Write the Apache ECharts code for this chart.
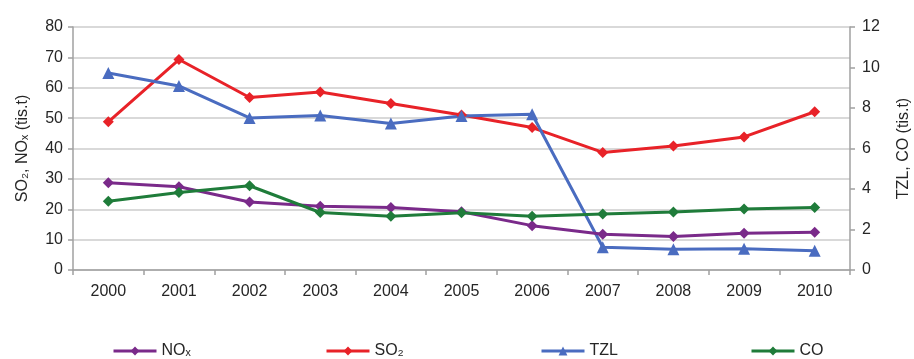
<!DOCTYPE html>
<html>
<head>
<meta charset="utf-8">
<script src="https://cdn.jsdelivr.net/npm/echarts@6/dist/echarts.min.js"></script>
<style>
html,body{margin:0;padding:0;background:#fff;}
#c{width:914px;height:359px;}
</style>
</head>
<body>
<div id="c"></div>
<script>
const years = ['2000','2001','2002','2003','2004','2005','2006','2007','2008','2009','2010'];
const noxValues = [28.7, 27.4, 22.4, 21.0, 20.6, 19.2, 14.6, 11.8, 11.0, 12.1, 12.4];
const so2Values = [48.8, 69.3, 56.8, 58.6, 54.8, 51.0, 46.9, 38.7, 40.8, 43.8, 52.1];
const tzlValues = [9.73, 9.09, 7.51, 7.63, 7.23, 7.61, 7.69, 1.12, 1.02, 1.05, 0.95];
const coValues = [3.40, 3.83, 4.16, 2.84, 2.66, 2.83, 2.66, 2.76, 2.86, 3.01, 3.09];
const leftTicks = [0, 80, 10];
const rightTicks = [0, 12, 2];
const seriesNames = ['NOₓ', 'SO₂', 'TZL', 'CO'];

const FONT = 'Liberation Sans, Arial, sans-serif';
const txt = '#262626';
const colors = ['#7a2a8a', '#e82228', '#4a6cc0', '#1f7c3a'];

const chart = echarts.init(document.getElementById('c'), null, {renderer: 'canvas'});

function legendAt(name, left) {
  return {
    data: [name], left: left, top: 338,
    itemWidth: 43, itemHeight: 11, itemGap: 6,
    lineStyle: {width: 3},
    textStyle: {fontFamily: FONT, fontSize: 16, color: txt}
  };
}

function lineSeries(name, data, yIdx, color, symbol, size) {
  return {
    name: name, type: 'line', data: data, yAxisIndex: yIdx,
    symbol: symbol, symbolSize: size,
    lineStyle: {color: color, width: 3},
    itemStyle: {color: color},
    emphasis: {disabled: true},
    animation: false
  };
}

chart.setOption({
  animation: false,
  backgroundColor: '#ffffff',
  grid: {left: 73, right: 64, top: 27, bottom: 89, containLabel: false, outerBoundsMode: 'none'},
  legend: [
    legendAt(seriesNames[0], 107),
    legendAt(seriesNames[1], 320),
    legendAt(seriesNames[2], 535),
    legendAt(seriesNames[3], 745)
  ],
  xAxis: {
    type: 'category', data: years, boundaryGap: true,
    axisLine: {lineStyle: {color: '#a0a0a0', width: 1.5}},
    axisTick: {show: true, length: 5, lineStyle: {color: '#a0a0a0', width: 1.5}},
    axisLabel: {fontFamily: FONT, fontSize: 16, color: txt, margin: 14}
  },
  yAxis: [
    {
      type: 'value', position: 'left', min: leftTicks[0], max: leftTicks[1], interval: leftTicks[2],
      name: 'SO₂, NOₓ (tis.t)', nameLocation: 'middle', nameGap: 42, nameRotate: 90,
      nameTextStyle: {fontFamily: FONT, fontSize: 16, color: txt},
      axisLine: {show: true, lineStyle: {color: '#a0a0a0', width: 1.5}},
      axisTick: {show: true, length: 5, lineStyle: {color: '#a0a0a0', width: 1.5}},
      axisLabel: {fontFamily: FONT, fontSize: 16, color: txt, margin: 10},
      splitLine: {show: true, lineStyle: {color: '#cccccc', width: 1.5}}
    },
    {
      type: 'value', position: 'right', min: rightTicks[0], max: rightTicks[1], interval: rightTicks[2],
      name: 'TZL, CO (tis.t)', nameLocation: 'middle', nameGap: 46, nameRotate: 90,
      nameTextStyle: {fontFamily: FONT, fontSize: 16, color: txt},
      axisLine: {show: true, lineStyle: {color: '#a0a0a0', width: 1.5}},
      axisTick: {show: true, length: 5, lineStyle: {color: '#a0a0a0', width: 1.5}},
      axisLabel: {fontFamily: FONT, fontSize: 16, color: txt, margin: 12},
      splitLine: {show: false}
    }
  ],
  series: [
    lineSeries(seriesNames[1], so2Values, 0, colors[1], 'diamond', 11),
    lineSeries(seriesNames[2], tzlValues, 1, colors[2], 'triangle', 12),
    lineSeries(seriesNames[0], noxValues, 0, colors[0], 'diamond', 11),
    lineSeries(seriesNames[3], coValues, 1, colors[3], 'diamond', 11)
  ]
});
</script>
</body>
</html>
